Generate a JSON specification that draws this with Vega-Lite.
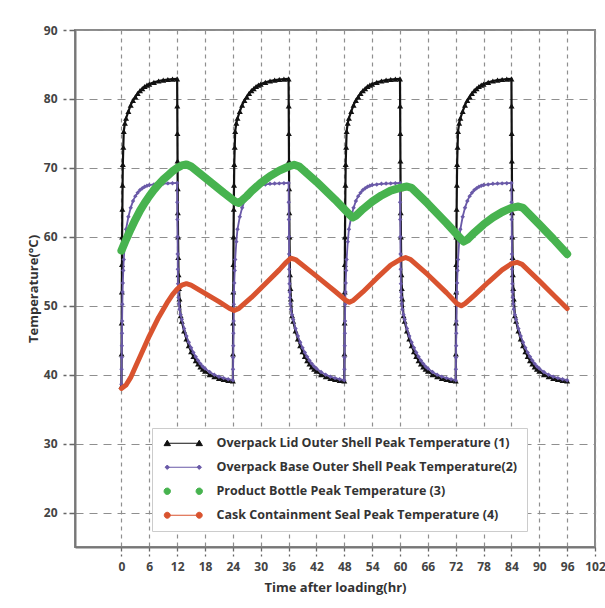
{
"$schema":"https://vega.github.io/schema/vega-lite/v6.json",
"width":520,"height":517,
"autosize":{"type":"none"},
"padding":{"left":75,"top":30,"right":10,"bottom":61},
"background":"#ffffff",
"config":{
"font":"Open Sans",
"view":{"stroke":"#8a8a8a","strokeWidth":2},
"axis":{"domainColor":"#777777","domainWidth":2,"tickColor":"#666666","tickWidth":1.3,"gridColor":"#8f8f8f","gridWidth":1.2,"labelFont":"Open Sans","labelFontWeight":"bold","labelFontSize":12,"labelColor":"#444444","titleFont":"Open Sans","titleFontWeight":"bold","titleFontSize":13,"titleColor":"#333333"},
"axisX":{"gridDash":[4,4],"tickDash":[4,3]},
"axisY":{"gridDash":[8,6],"tickDash":[6,3]}
},
"data":{"values":[
{"s":"a","t":0,"v":38.3},
{"s":"a","t":0.03,"v":43},{"s":"a","t":0.06,"v":47.5},{"s":"a","t":0.09,"v":52},{"s":"a","t":0.12,"v":56},{"s":"a","t":0.15,"v":60},{"s":"a","t":0.2,"v":64},{"s":"a","t":0.25,"v":67.5},{"s":"a","t":0.3,"v":70.5},{"s":"a","t":0.4,"v":73},{"s":"a","t":0.5,"v":75.3},{"s":"a","t":0.75,"v":76.5},{"s":"a","t":1,"v":77.2},{"s":"a","t":1.5,"v":78.2},{"s":"a","t":2,"v":79.1},{"s":"a","t":2.5,"v":79.8},{"s":"a","t":3,"v":80.3},{"s":"a","t":3.5,"v":80.8},{"s":"a","t":4,"v":81.2},{"s":"a","t":4.5,"v":81.5},{"s":"a","t":5,"v":81.8},{"s":"a","t":5.5,"v":82},{"s":"a","t":6,"v":82.15},{"s":"a","t":7,"v":82.4},{"s":"a","t":8,"v":82.6},{"s":"a","t":9,"v":82.73},{"s":"a","t":10,"v":82.82},{"s":"a","t":11,"v":82.88},{"s":"a","t":12,"v":82.92},
{"s":"a","t":12.03,"v":79},{"s":"a","t":12.06,"v":75},{"s":"a","t":12.09,"v":71},{"s":"a","t":12.12,"v":67},{"s":"a","t":12.15,"v":63.5},{"s":"a","t":12.2,"v":60},{"s":"a","t":12.25,"v":57},{"s":"a","t":12.3,"v":54.5},{"s":"a","t":12.4,"v":52.5},{"s":"a","t":12.5,"v":51},{"s":"a","t":12.75,"v":48.55},{"s":"a","t":13,"v":47.75},{"s":"a","t":13.5,"v":46.35},{"s":"a","t":14,"v":45.2},{"s":"a","t":14.5,"v":44.2},{"s":"a","t":15,"v":43.35},{"s":"a","t":15.5,"v":42.65},{"s":"a","t":16,"v":42.05},{"s":"a","t":16.5,"v":41.55},{"s":"a","t":17,"v":41.13},{"s":"a","t":17.5,"v":40.8},{"s":"a","t":18,"v":40.5},{"s":"a","t":19,"v":40},{"s":"a","t":20,"v":39.7},{"s":"a","t":21,"v":39.46},{"s":"a","t":22,"v":39.3},{"s":"a","t":23,"v":39.18},{"s":"a","t":24,"v":39.1},
{"s":"a","t":24.03,"v":43},{"s":"a","t":24.06,"v":47.5},{"s":"a","t":24.09,"v":52},{"s":"a","t":24.12,"v":56},{"s":"a","t":24.15,"v":60},{"s":"a","t":24.2,"v":64},{"s":"a","t":24.25,"v":67.5},{"s":"a","t":24.3,"v":70.5},{"s":"a","t":24.4,"v":73},{"s":"a","t":24.5,"v":75.3},{"s":"a","t":24.75,"v":76.5},{"s":"a","t":25,"v":77.2},{"s":"a","t":25.5,"v":78.2},{"s":"a","t":26,"v":79.1},{"s":"a","t":26.5,"v":79.8},{"s":"a","t":27,"v":80.3},{"s":"a","t":27.5,"v":80.8},{"s":"a","t":28,"v":81.2},{"s":"a","t":28.5,"v":81.5},{"s":"a","t":29,"v":81.8},{"s":"a","t":29.5,"v":82},{"s":"a","t":30,"v":82.15},{"s":"a","t":31,"v":82.4},{"s":"a","t":32,"v":82.6},{"s":"a","t":33,"v":82.73},{"s":"a","t":34,"v":82.82},{"s":"a","t":35,"v":82.88},{"s":"a","t":36,"v":82.92},
{"s":"a","t":36.03,"v":79},{"s":"a","t":36.06,"v":75},{"s":"a","t":36.09,"v":71},{"s":"a","t":36.12,"v":67},{"s":"a","t":36.15,"v":63.5},{"s":"a","t":36.2,"v":60},{"s":"a","t":36.25,"v":57},{"s":"a","t":36.3,"v":54.5},{"s":"a","t":36.4,"v":52.5},{"s":"a","t":36.5,"v":51},{"s":"a","t":36.75,"v":48.55},{"s":"a","t":37,"v":47.75},{"s":"a","t":37.5,"v":46.35},{"s":"a","t":38,"v":45.2},{"s":"a","t":38.5,"v":44.2},{"s":"a","t":39,"v":43.35},{"s":"a","t":39.5,"v":42.65},{"s":"a","t":40,"v":42.05},{"s":"a","t":40.5,"v":41.55},{"s":"a","t":41,"v":41.13},{"s":"a","t":41.5,"v":40.8},{"s":"a","t":42,"v":40.5},{"s":"a","t":43,"v":40},{"s":"a","t":44,"v":39.7},{"s":"a","t":45,"v":39.46},{"s":"a","t":46,"v":39.3},{"s":"a","t":47,"v":39.18},{"s":"a","t":48,"v":39.1},
{"s":"a","t":48.03,"v":43},{"s":"a","t":48.06,"v":47.5},{"s":"a","t":48.09,"v":52},{"s":"a","t":48.12,"v":56},{"s":"a","t":48.15,"v":60},{"s":"a","t":48.2,"v":64},{"s":"a","t":48.25,"v":67.5},{"s":"a","t":48.3,"v":70.5},{"s":"a","t":48.4,"v":73},{"s":"a","t":48.5,"v":75.3},{"s":"a","t":48.75,"v":76.5},{"s":"a","t":49,"v":77.2},{"s":"a","t":49.5,"v":78.2},{"s":"a","t":50,"v":79.1},{"s":"a","t":50.5,"v":79.8},{"s":"a","t":51,"v":80.3},{"s":"a","t":51.5,"v":80.8},{"s":"a","t":52,"v":81.2},{"s":"a","t":52.5,"v":81.5},{"s":"a","t":53,"v":81.8},{"s":"a","t":53.5,"v":82},{"s":"a","t":54,"v":82.15},{"s":"a","t":55,"v":82.4},{"s":"a","t":56,"v":82.6},{"s":"a","t":57,"v":82.73},{"s":"a","t":58,"v":82.82},{"s":"a","t":59,"v":82.88},{"s":"a","t":60,"v":82.92},
{"s":"a","t":60.03,"v":79},{"s":"a","t":60.06,"v":75},{"s":"a","t":60.09,"v":71},{"s":"a","t":60.12,"v":67},{"s":"a","t":60.15,"v":63.5},{"s":"a","t":60.2,"v":60},{"s":"a","t":60.25,"v":57},{"s":"a","t":60.3,"v":54.5},{"s":"a","t":60.4,"v":52.5},{"s":"a","t":60.5,"v":51},{"s":"a","t":60.75,"v":48.55},{"s":"a","t":61,"v":47.75},{"s":"a","t":61.5,"v":46.35},{"s":"a","t":62,"v":45.2},{"s":"a","t":62.5,"v":44.2},{"s":"a","t":63,"v":43.35},{"s":"a","t":63.5,"v":42.65},{"s":"a","t":64,"v":42.05},{"s":"a","t":64.5,"v":41.55},{"s":"a","t":65,"v":41.13},{"s":"a","t":65.5,"v":40.8},{"s":"a","t":66,"v":40.5},{"s":"a","t":67,"v":40},{"s":"a","t":68,"v":39.7},{"s":"a","t":69,"v":39.46},{"s":"a","t":70,"v":39.3},{"s":"a","t":71,"v":39.18},{"s":"a","t":72,"v":39.1},
{"s":"a","t":72.03,"v":43},{"s":"a","t":72.06,"v":47.5},{"s":"a","t":72.09,"v":52},{"s":"a","t":72.12,"v":56},{"s":"a","t":72.15,"v":60},{"s":"a","t":72.2,"v":64},{"s":"a","t":72.25,"v":67.5},{"s":"a","t":72.3,"v":70.5},{"s":"a","t":72.4,"v":73},{"s":"a","t":72.5,"v":75.3},{"s":"a","t":72.75,"v":76.5},{"s":"a","t":73,"v":77.2},{"s":"a","t":73.5,"v":78.2},{"s":"a","t":74,"v":79.1},{"s":"a","t":74.5,"v":79.8},{"s":"a","t":75,"v":80.3},{"s":"a","t":75.5,"v":80.8},{"s":"a","t":76,"v":81.2},{"s":"a","t":76.5,"v":81.5},{"s":"a","t":77,"v":81.8},{"s":"a","t":77.5,"v":82},{"s":"a","t":78,"v":82.15},{"s":"a","t":79,"v":82.4},{"s":"a","t":80,"v":82.6},{"s":"a","t":81,"v":82.73},{"s":"a","t":82,"v":82.82},{"s":"a","t":83,"v":82.88},{"s":"a","t":84,"v":82.92},
{"s":"a","t":84.03,"v":79},{"s":"a","t":84.06,"v":75},{"s":"a","t":84.09,"v":71},{"s":"a","t":84.12,"v":67},{"s":"a","t":84.15,"v":63.5},{"s":"a","t":84.2,"v":60},{"s":"a","t":84.25,"v":57},{"s":"a","t":84.3,"v":54.5},{"s":"a","t":84.4,"v":52.5},{"s":"a","t":84.5,"v":51},{"s":"a","t":84.75,"v":48.55},{"s":"a","t":85,"v":47.75},{"s":"a","t":85.5,"v":46.35},{"s":"a","t":86,"v":45.2},{"s":"a","t":86.5,"v":44.2},{"s":"a","t":87,"v":43.35},{"s":"a","t":87.5,"v":42.65},{"s":"a","t":88,"v":42.05},{"s":"a","t":88.5,"v":41.55},{"s":"a","t":89,"v":41.13},{"s":"a","t":89.5,"v":40.8},{"s":"a","t":90,"v":40.5},{"s":"a","t":91,"v":40},{"s":"a","t":92,"v":39.7},{"s":"a","t":93,"v":39.46},{"s":"a","t":94,"v":39.3},{"s":"a","t":95,"v":39.18},{"s":"a","t":96,"v":39.1},
{"s":"b","t":0,"v":38.6},
{"s":"b","t":0.03,"v":40.8},{"s":"b","t":0.06,"v":42.5},{"s":"b","t":0.09,"v":44.2},{"s":"b","t":0.12,"v":46},{"s":"b","t":0.15,"v":47.8},{"s":"b","t":0.2,"v":50.2},{"s":"b","t":0.25,"v":52},{"s":"b","t":0.3,"v":53.3},{"s":"b","t":0.4,"v":55.1},{"s":"b","t":0.5,"v":56.7},{"s":"b","t":0.75,"v":59.3},{"s":"b","t":1,"v":61.1},{"s":"b","t":1.5,"v":62.9},{"s":"b","t":2,"v":64.2},{"s":"b","t":2.5,"v":65.2},{"s":"b","t":3,"v":65.9},{"s":"b","t":3.5,"v":66.4},{"s":"b","t":4,"v":66.8},{"s":"b","t":4.5,"v":67.05},{"s":"b","t":5,"v":67.25},{"s":"b","t":5.5,"v":67.4},{"s":"b","t":6,"v":67.5},{"s":"b","t":7,"v":67.6},{"s":"b","t":8,"v":67.68},{"s":"b","t":9,"v":67.72},{"s":"b","t":10,"v":67.75},{"s":"b","t":11,"v":67.78},{"s":"b","t":12,"v":67.8},
{"s":"b","t":12.03,"v":65},{"s":"b","t":12.06,"v":62.5},{"s":"b","t":12.09,"v":60},{"s":"b","t":12.12,"v":57.5},{"s":"b","t":12.15,"v":55.3},{"s":"b","t":12.2,"v":53.2},{"s":"b","t":12.25,"v":52},{"s":"b","t":12.3,"v":51.2},{"s":"b","t":12.4,"v":50.3},{"s":"b","t":12.5,"v":49.5},{"s":"b","t":12.75,"v":48.7},{"s":"b","t":13,"v":48},{"s":"b","t":13.5,"v":46.7},{"s":"b","t":14,"v":45.6},{"s":"b","t":14.5,"v":44.7},{"s":"b","t":15,"v":43.9},{"s":"b","t":15.5,"v":43.2},{"s":"b","t":16,"v":42.6},{"s":"b","t":16.5,"v":42.05},{"s":"b","t":17,"v":41.6},{"s":"b","t":17.5,"v":41.2},{"s":"b","t":18,"v":40.9},{"s":"b","t":19,"v":40.4},{"s":"b","t":20,"v":40},{"s":"b","t":21,"v":39.7},{"s":"b","t":22,"v":39.5},{"s":"b","t":23,"v":39.35},{"s":"b","t":24,"v":39.2},
{"s":"b","t":24.03,"v":40.8},{"s":"b","t":24.06,"v":42.5},{"s":"b","t":24.09,"v":44.2},{"s":"b","t":24.12,"v":46},{"s":"b","t":24.15,"v":47.8},{"s":"b","t":24.2,"v":50.2},{"s":"b","t":24.25,"v":52},{"s":"b","t":24.3,"v":53.3},{"s":"b","t":24.4,"v":55.1},{"s":"b","t":24.5,"v":56.7},{"s":"b","t":24.75,"v":59.3},{"s":"b","t":25,"v":61.1},{"s":"b","t":25.5,"v":62.9},{"s":"b","t":26,"v":64.2},{"s":"b","t":26.5,"v":65.2},{"s":"b","t":27,"v":65.9},{"s":"b","t":27.5,"v":66.4},{"s":"b","t":28,"v":66.8},{"s":"b","t":28.5,"v":67.05},{"s":"b","t":29,"v":67.25},{"s":"b","t":29.5,"v":67.4},{"s":"b","t":30,"v":67.5},{"s":"b","t":31,"v":67.6},{"s":"b","t":32,"v":67.68},{"s":"b","t":33,"v":67.72},{"s":"b","t":34,"v":67.75},{"s":"b","t":35,"v":67.78},{"s":"b","t":36,"v":67.8},
{"s":"b","t":36.03,"v":65},{"s":"b","t":36.06,"v":62.5},{"s":"b","t":36.09,"v":60},{"s":"b","t":36.12,"v":57.5},{"s":"b","t":36.15,"v":55.3},{"s":"b","t":36.2,"v":53.2},{"s":"b","t":36.25,"v":52},{"s":"b","t":36.3,"v":51.2},{"s":"b","t":36.4,"v":50.3},{"s":"b","t":36.5,"v":49.5},{"s":"b","t":36.75,"v":48.7},{"s":"b","t":37,"v":48},{"s":"b","t":37.5,"v":46.7},{"s":"b","t":38,"v":45.6},{"s":"b","t":38.5,"v":44.7},{"s":"b","t":39,"v":43.9},{"s":"b","t":39.5,"v":43.2},{"s":"b","t":40,"v":42.6},{"s":"b","t":40.5,"v":42.05},{"s":"b","t":41,"v":41.6},{"s":"b","t":41.5,"v":41.2},{"s":"b","t":42,"v":40.9},{"s":"b","t":43,"v":40.4},{"s":"b","t":44,"v":40},{"s":"b","t":45,"v":39.7},{"s":"b","t":46,"v":39.5},{"s":"b","t":47,"v":39.35},{"s":"b","t":48,"v":39.2},
{"s":"b","t":48.03,"v":40.8},{"s":"b","t":48.06,"v":42.5},{"s":"b","t":48.09,"v":44.2},{"s":"b","t":48.12,"v":46},{"s":"b","t":48.15,"v":47.8},{"s":"b","t":48.2,"v":50.2},{"s":"b","t":48.25,"v":52},{"s":"b","t":48.3,"v":53.3},{"s":"b","t":48.4,"v":55.1},{"s":"b","t":48.5,"v":56.7},{"s":"b","t":48.75,"v":59.3},{"s":"b","t":49,"v":61.1},{"s":"b","t":49.5,"v":62.9},{"s":"b","t":50,"v":64.2},{"s":"b","t":50.5,"v":65.2},{"s":"b","t":51,"v":65.9},{"s":"b","t":51.5,"v":66.4},{"s":"b","t":52,"v":66.8},{"s":"b","t":52.5,"v":67.05},{"s":"b","t":53,"v":67.25},{"s":"b","t":53.5,"v":67.4},{"s":"b","t":54,"v":67.5},{"s":"b","t":55,"v":67.6},{"s":"b","t":56,"v":67.68},{"s":"b","t":57,"v":67.72},{"s":"b","t":58,"v":67.75},{"s":"b","t":59,"v":67.78},{"s":"b","t":60,"v":67.8},
{"s":"b","t":60.03,"v":65},{"s":"b","t":60.06,"v":62.5},{"s":"b","t":60.09,"v":60},{"s":"b","t":60.12,"v":57.5},{"s":"b","t":60.15,"v":55.3},{"s":"b","t":60.2,"v":53.2},{"s":"b","t":60.25,"v":52},{"s":"b","t":60.3,"v":51.2},{"s":"b","t":60.4,"v":50.3},{"s":"b","t":60.5,"v":49.5},{"s":"b","t":60.75,"v":48.7},{"s":"b","t":61,"v":48},{"s":"b","t":61.5,"v":46.7},{"s":"b","t":62,"v":45.6},{"s":"b","t":62.5,"v":44.7},{"s":"b","t":63,"v":43.9},{"s":"b","t":63.5,"v":43.2},{"s":"b","t":64,"v":42.6},{"s":"b","t":64.5,"v":42.05},{"s":"b","t":65,"v":41.6},{"s":"b","t":65.5,"v":41.2},{"s":"b","t":66,"v":40.9},{"s":"b","t":67,"v":40.4},{"s":"b","t":68,"v":40},{"s":"b","t":69,"v":39.7},{"s":"b","t":70,"v":39.5},{"s":"b","t":71,"v":39.35},{"s":"b","t":72,"v":39.2},
{"s":"b","t":72.03,"v":40.8},{"s":"b","t":72.06,"v":42.5},{"s":"b","t":72.09,"v":44.2},{"s":"b","t":72.12,"v":46},{"s":"b","t":72.15,"v":47.8},{"s":"b","t":72.2,"v":50.2},{"s":"b","t":72.25,"v":52},{"s":"b","t":72.3,"v":53.3},{"s":"b","t":72.4,"v":55.1},{"s":"b","t":72.5,"v":56.7},{"s":"b","t":72.75,"v":59.3},{"s":"b","t":73,"v":61.1},{"s":"b","t":73.5,"v":62.9},{"s":"b","t":74,"v":64.2},{"s":"b","t":74.5,"v":65.2},{"s":"b","t":75,"v":65.9},{"s":"b","t":75.5,"v":66.4},{"s":"b","t":76,"v":66.8},{"s":"b","t":76.5,"v":67.05},{"s":"b","t":77,"v":67.25},{"s":"b","t":77.5,"v":67.4},{"s":"b","t":78,"v":67.5},{"s":"b","t":79,"v":67.6},{"s":"b","t":80,"v":67.68},{"s":"b","t":81,"v":67.72},{"s":"b","t":82,"v":67.75},{"s":"b","t":83,"v":67.78},{"s":"b","t":84,"v":67.8},
{"s":"b","t":84.03,"v":65},{"s":"b","t":84.06,"v":62.5},{"s":"b","t":84.09,"v":60},{"s":"b","t":84.12,"v":57.5},{"s":"b","t":84.15,"v":55.3},{"s":"b","t":84.2,"v":53.2},{"s":"b","t":84.25,"v":52},{"s":"b","t":84.3,"v":51.2},{"s":"b","t":84.4,"v":50.3},{"s":"b","t":84.5,"v":49.5},{"s":"b","t":84.75,"v":48.7},{"s":"b","t":85,"v":48},{"s":"b","t":85.5,"v":46.7},{"s":"b","t":86,"v":45.6},{"s":"b","t":86.5,"v":44.7},{"s":"b","t":87,"v":43.9},{"s":"b","t":87.5,"v":43.2},{"s":"b","t":88,"v":42.6},{"s":"b","t":88.5,"v":42.05},{"s":"b","t":89,"v":41.6},{"s":"b","t":89.5,"v":41.2},{"s":"b","t":90,"v":40.9},{"s":"b","t":91,"v":40.4},{"s":"b","t":92,"v":40},{"s":"b","t":93,"v":39.7},{"s":"b","t":94,"v":39.5},{"s":"b","t":95,"v":39.35},{"s":"b","t":96,"v":39.2},
{"s":"c","t":0,"v":58},{"s":"c","t":1,"v":59.6},{"s":"c","t":2,"v":61.1},{"s":"c","t":3,"v":62.5},{"s":"c","t":4,"v":63.8},{"s":"c","t":5,"v":64.9},{"s":"c","t":6,"v":65.9},{"s":"c","t":7,"v":66.8},{"s":"c","t":8,"v":67.6},{"s":"c","t":9,"v":68.3},{"s":"c","t":10,"v":68.9},{"s":"c","t":11,"v":69.5},{"s":"c","t":12,"v":70},{"s":"c","t":13,"v":70.35},{"s":"c","t":14,"v":70.5},{"s":"c","t":15,"v":70.2},{"s":"c","t":18,"v":68.6},{"s":"c","t":22,"v":66.4},{"s":"c","t":24.5,"v":65.1},{"s":"c","t":25.3,"v":64.9},{"s":"c","t":26,"v":65.3},{"s":"c","t":27,"v":65.9},{"s":"c","t":28,"v":66.6},{"s":"c","t":30,"v":67.8},{"s":"c","t":32,"v":68.8},{"s":"c","t":34,"v":69.6},{"s":"c","t":36,"v":70.2},{"s":"c","t":37.2,"v":70.45},{"s":"c","t":38.3,"v":70.2},{"s":"c","t":42,"v":68},{"s":"c","t":46,"v":65.4},{"s":"c","t":49,"v":63.3},{"s":"c","t":49.8,"v":62.8},{"s":"c","t":50.6,"v":63.1},{"s":"c","t":52,"v":64},{"s":"c","t":54,"v":65.1},{"s":"c","t":56,"v":66},{"s":"c","t":58,"v":66.7},{"s":"c","t":60,"v":67.1},{"s":"c","t":61.5,"v":67.3},{"s":"c","t":62.5,"v":67.1},{"s":"c","t":66,"v":64.8},{"s":"c","t":70,"v":62},{"s":"c","t":73,"v":59.8},{"s":"c","t":73.7,"v":59.3},{"s":"c","t":74.5,"v":59.6},{"s":"c","t":76,"v":60.6},{"s":"c","t":78,"v":61.8},{"s":"c","t":80,"v":62.8},{"s":"c","t":82,"v":63.6},{"s":"c","t":84,"v":64.2},{"s":"c","t":85.5,"v":64.4},{"s":"c","t":86.5,"v":64.2},{"s":"c","t":90,"v":61.8},{"s":"c","t":93,"v":59.7},{"s":"c","t":96,"v":57.5},
{"s":"d","t":0,"v":38},{"s":"d","t":1,"v":38.5},{"s":"d","t":2,"v":39.6},{"s":"d","t":3,"v":41.1},{"s":"d","t":4,"v":42.6},{"s":"d","t":6,"v":45.6},{"s":"d","t":8,"v":48.3},{"s":"d","t":10,"v":50.6},{"s":"d","t":11,"v":51.6},{"s":"d","t":12,"v":52.4},{"s":"d","t":13,"v":53},{"s":"d","t":14,"v":53.2},{"s":"d","t":15,"v":53},{"s":"d","t":18,"v":51.8},{"s":"d","t":21,"v":50.6},{"s":"d","t":23.3,"v":49.6},{"s":"d","t":24.3,"v":49.3},{"s":"d","t":25.3,"v":49.6},{"s":"d","t":28,"v":51.2},{"s":"d","t":31,"v":53.2},{"s":"d","t":34,"v":55.2},{"s":"d","t":35.5,"v":56.3},{"s":"d","t":36.5,"v":56.9},{"s":"d","t":37.5,"v":56.7},{"s":"d","t":42,"v":54.3},{"s":"d","t":46,"v":52.1},{"s":"d","t":48.3,"v":50.8},{"s":"d","t":49.1,"v":50.5},{"s":"d","t":50,"v":50.8},{"s":"d","t":52,"v":52},{"s":"d","t":55,"v":54},{"s":"d","t":58,"v":55.9},{"s":"d","t":60,"v":56.7},{"s":"d","t":61.2,"v":57},{"s":"d","t":62.3,"v":56.7},{"s":"d","t":66,"v":54.5},{"s":"d","t":70,"v":51.9},{"s":"d","t":72.3,"v":50.3},{"s":"d","t":73.2,"v":50},{"s":"d","t":74,"v":50.3},{"s":"d","t":76,"v":51.5},{"s":"d","t":79,"v":53.4},{"s":"d","t":82,"v":55.2},{"s":"d","t":84,"v":56.1},{"s":"d","t":85.2,"v":56.3},{"s":"d","t":86.3,"v":56},{"s":"d","t":90,"v":53.6},{"s":"d","t":93,"v":51.6},{"s":"d","t":96,"v":49.6}
]},
"encoding":{
"x":{"field":"t","type":"quantitative","scale":{"domain":[-10,102],"nice":false,"zero":false},"axis":{"values":[0,6,12,18,24,30,36,42,48,54,60,66,72,78,84,90,96,102],"title":"Time after loading(hr)","tickSize":9,"labelPadding":5,"titlePadding":9,"labelFlush":false}},
"y":{"field":"v","type":"quantitative","scale":{"domain":[15,90],"nice":false,"zero":false},"axis":{"values":[20,30,40,50,60,70,80,90],"title":"Temperature(°C)","tickSize":12,"labelPadding":6,"titlePadding":3}},
"color":{"field":"s","type":"nominal","scale":{"domain":["a","b","c","d"],"range":["#111111","#6a5aa8","#47b34f","#d9532f"]},
"legend":{"orient":"none","legendX":77,"legendY":398,"title":null,"direction":"vertical",
"labelExpr":"datum.value == 'a' ? 'Overpack Lid Outer Shell Peak Temperature (1)' : datum.value == 'b' ? 'Overpack Base Outer Shell Peak Temperature(2)' : datum.value == 'c' ? 'Product Bottle Peak Temperature (3)' : 'Cask Containment Seal Peak Temperature (4)'",
"symbolSize":16,"labelOffset":43,"padding":9,"rowPadding":11,"fillColor":"#ffffff","strokeColor":"#cccccc","labelFont":"Open Sans","labelFontSize":12.5,"labelFontWeight":"bold","labelColor":"#333333","labelLimit":420,
"encode":{"symbols":{"update":{
"shape":{"signal":"datum.value == 'a' ? 'M0,0L16,0M-1.6,1.2L0,-1.5L1.6,1.2ZM14.4,1.2L16,-1.5L17.6,1.2Z' : datum.value == 'b' ? 'M0,0L16,0M-1.1,0L0,-1.1L1.1,0L0,1.1ZM14.9,0L16,-1.1L17.1,0L16,1.1Z' : datum.value == 'c' ? 'M-1.6,0A1.6,1.6 0 1,1 1.6,0A1.6,1.6 0 1,1 -1.6,0ZM14.4,0A1.6,1.6 0 1,1 17.6,0A1.6,1.6 0 1,1 14.4,0Z' : 'M0,0L16,0M-1.5,0A1.5,1.5 0 1,1 1.5,0A1.5,1.5 0 1,1 -1.5,0ZM14.5,0A1.5,1.5 0 1,1 17.5,0A1.5,1.5 0 1,1 14.5,0Z'"},
"fill":{"signal":"datum.value == 'a' ? '#111111' : datum.value == 'b' ? '#6a5aa8' : datum.value == 'c' ? '#5cbf66' : '#d9532f'"},
"stroke":{"signal":"datum.value == 'a' ? '#222222' : datum.value == 'b' ? '#8c80c0' : datum.value == 'c' ? '#7fcf86' : '#d9532f'"},
"strokeWidth":{"value":1},
"opacity":{"value":1},
"fillOpacity":{"value":1},
"strokeOpacity":{"value":1}
}}}}}
},
"layer":[
{"transform":[{"filter":"datum.s == 'a'"}],"mark":{"type":"line","strokeWidth":2.2}},
{"transform":[{"filter":"datum.s == 'a'"}],"mark":{"type":"point","shape":"triangle-up","size":36,"filled":true,"opacity":1}},
{"transform":[{"filter":"datum.s == 'b'"}],"mark":{"type":"line","strokeWidth":1.8}},
{"transform":[{"filter":"datum.s == 'b'"}],"mark":{"type":"point","shape":"diamond","size":20,"filled":true,"opacity":1}},
{"transform":[{"filter":"datum.s == 'c'"}],"mark":{"type":"line","strokeWidth":8,"strokeCap":"round","strokeJoin":"round"}},
{"transform":[{"filter":"datum.s == 'd'"}],"mark":{"type":"line","strokeWidth":5,"strokeCap":"round","strokeJoin":"round"}}
]
}
